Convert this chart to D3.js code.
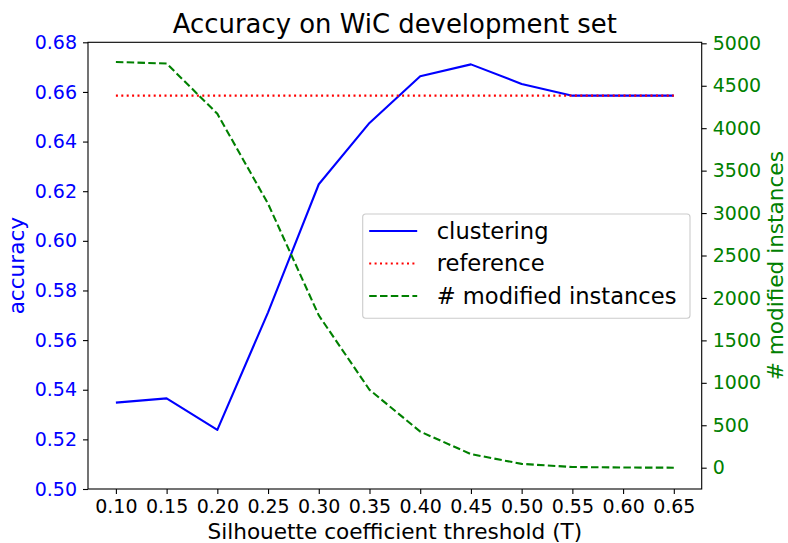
<!DOCTYPE html>
<html>
<head>
<meta charset="utf-8">
<script src="https://cdn.jsdelivr.net/npm/d3@7"></script>
<style>
  body { margin: 0; background: #fff; }
  svg { display: block; font-family: "DejaVu Sans", sans-serif; }
</style>
</head>
<body>
<div id="chart"></div>
<script>
// data
var thresholds = [0.10, 0.15, 0.20, 0.25, 0.30, 0.35, 0.40, 0.45, 0.50, 0.55, 0.60, 0.65];
var accuracy = [0.5348, 0.5365, 0.5238, 0.5712, 0.6228, 0.6475, 0.6663, 0.6711, 0.6632, 0.6585, 0.6585, 0.6585];
var reference = [0.6585, 0.6585, 0.6585, 0.6585, 0.6585, 0.6585, 0.6585, 0.6585, 0.6585, 0.6585, 0.6585, 0.6585];
var modified = [4780, 4762, 4170, 3110, 1795, 918, 425, 160, 45, 8, 2, 0];
var accTicks = [0.50, 0.52, 0.54, 0.56, 0.58, 0.60, 0.62, 0.64, 0.66, 0.68];
var modTicks = [0, 500, 1000, 1500, 2000, 2500, 3000, 3500, 4000, 4500, 5000];
var legendItems = [
  {label: "clustering", color: "#0000ff", dash: null},
  {label: "reference", color: "#ff0000", dash: "2,3.4"},
  {label: "# modified instances", color: "#008000", dash: "7.5,3.3"}
];

// magic numbers
var W = 788, H = 543;
var plot = {left: 88, right: 701.7, top: 42.3, bottom: 489};
var tickFont = 19, labelFont = 21.6;

var svg = d3.select("#chart").append("svg")
  .attr("width", W)
  .attr("height", H);

var x = d3.scaleLinear()
  .domain([0.0725, 0.6775])
  .range([plot.left, plot.right]);

var yAcc = d3.scaleLinear()
  .domain([0.50, 0.68])
  .range([plot.bottom, plot.top]);

var yMod = d3.scaleLinear()
  .domain([-251, 5012])
  .range([plot.bottom, plot.top]);

var accLine = d3.line()
  .x(function(d, i){ return x(thresholds[i]); })
  .y(function(d){ return yAcc(d); });

var modLine = d3.line()
  .x(function(d, i){ return x(thresholds[i]); })
  .y(function(d){ return yMod(d); });

// lines (accuracy axis first, then twin axis on top)
svg.append("path")
  .datum(accuracy)
  .attr("d", accLine)
  .attr("fill", "none")
  .attr("stroke", "#0000ff")
  .attr("stroke-width", 2.1)
  .attr("stroke-linejoin", "round");

svg.append("path")
  .datum(reference)
  .attr("d", accLine)
  .attr("fill", "none")
  .attr("stroke", "#ff0000")
  .attr("stroke-width", 2.1)
  .attr("stroke-dasharray", "2,3.4");

svg.append("path")
  .datum(modified)
  .attr("d", modLine)
  .attr("fill", "none")
  .attr("stroke", "#008000")
  .attr("stroke-width", 2.1)
  .attr("stroke-dasharray", "7.5,3.3");

// axes
var xAxis = d3.axisBottom(x)
  .tickValues(thresholds)
  .tickFormat(d3.format(".2f"))
  .tickSizeInner(5)
  .tickSizeOuter(0)
  .tickPadding(6);

var leftAxis = d3.axisLeft(yAcc)
  .tickValues(accTicks)
  .tickFormat(d3.format(".2f"))
  .tickSizeInner(5)
  .tickSizeOuter(0)
  .tickPadding(6);

var rightAxis = d3.axisRight(yMod)
  .tickValues(modTicks)
  .tickFormat(d3.format("d"))
  .tickSizeInner(5)
  .tickSizeOuter(0)
  .tickPadding(6);

var gx = svg.append("g")
  .attr("transform", "translate(0," + plot.bottom + ")")
  .call(xAxis);
gx.selectAll("text").attr("fill", "#000");

var gl = svg.append("g")
  .attr("transform", "translate(" + plot.left + ",0)")
  .call(leftAxis);
gl.selectAll("text").attr("fill", "#0000ff");

var gr = svg.append("g")
  .attr("transform", "translate(" + plot.right + ",0)")
  .call(rightAxis);
gr.selectAll("text").attr("fill", "#008000");

svg.selectAll(".tick line").attr("stroke", "#000").attr("stroke-width", 1.1);
svg.selectAll(".tick text").style("font-size", tickFont + "px").style("font-family", "DejaVu Sans");
svg.selectAll(".domain").remove();

// frame
svg.append("rect")
  .attr("x", plot.left)
  .attr("y", plot.top)
  .attr("width", plot.right - plot.left)
  .attr("height", plot.bottom - plot.top)
  .attr("fill", "none")
  .attr("stroke", "#000")
  .attr("stroke-width", 1.1);

// title and labels
svg.append("text")
  .attr("x", (plot.left + plot.right) / 2)
  .attr("y", 33)
  .attr("text-anchor", "middle")
  .style("font-size", "25.9px")
  .attr("fill", "#000")
  .text("Accuracy on WiC development set");

svg.append("text")
  .attr("x", (plot.left + plot.right) / 2)
  .attr("y", 539)
  .attr("text-anchor", "middle")
  .style("font-size", labelFont + "px")
  .attr("fill", "#000")
  .text("Silhouette coefficient threshold (T)");

svg.append("text")
  .attr("transform", "translate(24," + (plot.top + plot.bottom) / 2 + ") rotate(-90)")
  .attr("text-anchor", "middle")
  .style("font-size", labelFont + "px")
  .attr("fill", "#0000ff")
  .text("accuracy");

svg.append("text")
  .attr("transform", "translate(783," + (plot.top + plot.bottom) / 2 + ") rotate(-90)")
  .attr("text-anchor", "middle")
  .style("font-size", labelFont + "px")
  .attr("fill", "#008000")
  .text("# modified instances");

// legend
var legend = svg.append("g")
  .attr("transform", "translate(362.7,214)");

legend.append("rect")
  .attr("width", 327.3)
  .attr("height", 104.3)
  .attr("rx", 3)
  .attr("fill", "#fff")
  .attr("fill-opacity", 0.8)
  .attr("stroke", "#cccccc")
  .attr("stroke-width", 1.1);

var item = legend.selectAll(".item")
    .data(legendItems)
  .enter().append("g")
    .attr("class", "item")
    .attr("transform", function(d, i){ return "translate(0," + (17 + i * 32.5) + ")"; });

item.append("line")
  .attr("x1", 6.5)
  .attr("x2", 54.5)
  .attr("stroke", function(d){ return d.color; })
  .attr("stroke-width", 2.1)
  .attr("stroke-dasharray", function(d){ return d.dash; });

item.append("text")
  .attr("x", 74)
  .attr("dy", "0.35em")
  .style("font-size", "22.6px")
  .attr("fill", "#000")
  .text(function(d){ return d.label; });
</script>
</body>
</html>
